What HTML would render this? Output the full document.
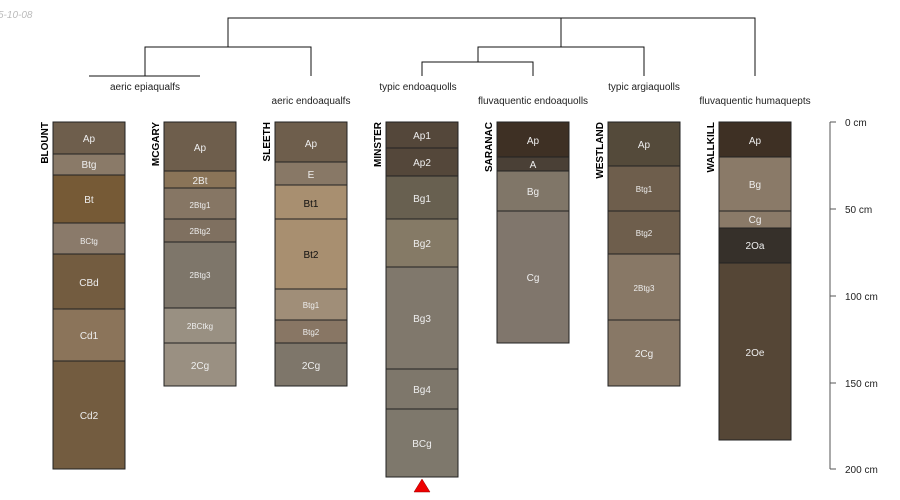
<!DOCTYPE html>
<html><head><meta charset="utf-8"><style>
html,body{margin:0;padding:0;background:#fff;width:900px;height:500px;overflow:hidden}
svg{display:block;font-family:"Liberation Sans",sans-serif}
</style></head><body>
<svg width="900" height="500" viewBox="0 0 900 500" xmlns="http://www.w3.org/2000/svg">
<text x="-2" y="18" font-size="10" fill="#bbb" font-style="italic">5-10-08</text>
<g stroke="#111" stroke-width="1" fill="none">
<path d="M228 47V18H755V76"/>
<path d="M145 76V47H311V76"/>
<path d="M89 76H200"/>
<path d="M561 18V47"/>
<path d="M478 62V47H644V76"/>
<path d="M422 76V62H533V76"/>
</g>
<g font-size="10" fill="#222" text-anchor="middle">
<text x="145" y="90">aeric epiaqualfs</text>
<text x="311" y="104">aeric endoaqualfs</text>
<text x="418" y="90">typic endoaquolls</text>
<text x="533" y="104">fluvaquentic endoaquolls</text>
<text x="644" y="90">typic argiaquolls</text>
<text x="755" y="104">fluvaquentic humaquepts</text>
</g>
<g font-size="10" font-weight="bold" fill="#000">
<text transform="translate(48,122) rotate(-90)" text-anchor="end">BLOUNT</text>
<text transform="translate(159,122) rotate(-90)" text-anchor="end">MCGARY</text>
<text transform="translate(270,122) rotate(-90)" text-anchor="end">SLEETH</text>
<text transform="translate(381,122) rotate(-90)" text-anchor="end">MINSTER</text>
<text transform="translate(492,122) rotate(-90)" text-anchor="end">SARANAC</text>
<text transform="translate(603,122) rotate(-90)" text-anchor="end">WESTLAND</text>
<text transform="translate(714,122) rotate(-90)" text-anchor="end">WALLKILL</text>
</g>
<g stroke="#222" stroke-width="1" font-size="10" text-anchor="middle">
<!-- Blount -->
<rect x="53" y="122" width="72" height="32" fill="#6e5e4c"/>
<rect x="53" y="154" width="72" height="21" fill="#8a7a68"/>
<rect x="53" y="175" width="72" height="48" fill="#765a36"/>
<rect x="53" y="223" width="72" height="31" fill="#8a7a6a"/>
<rect x="53" y="254" width="72" height="55" fill="#735c40"/>
<rect x="53" y="309" width="72" height="52" fill="#8b745a"/>
<rect x="53" y="361" width="72" height="108" fill="#735c40"/>
<!-- McGary -->
<rect x="164" y="122" width="72" height="49" fill="#6e5e4c"/>
<rect x="164" y="171" width="72" height="17" fill="#8a7458"/>
<rect x="164" y="188" width="72" height="31" fill="#867664"/>
<rect x="164" y="219" width="72" height="23" fill="#7f7060"/>
<rect x="164" y="242" width="72" height="66" fill="#7e766a"/>
<rect x="164" y="308" width="72" height="35" fill="#999082"/>
<rect x="164" y="343" width="72" height="43" fill="#9a9082"/>
<!-- Sleeth -->
<rect x="275" y="122" width="72" height="40" fill="#6e5e4c"/>
<rect x="275" y="162" width="72" height="23" fill="#887866"/>
<rect x="275" y="185" width="72" height="34" fill="#a88f70"/>
<rect x="275" y="219" width="72" height="70" fill="#a88f70"/>
<rect x="275" y="289" width="72" height="31" fill="#a08e78"/>
<rect x="275" y="320" width="72" height="23" fill="#887664"/>
<rect x="275" y="343" width="72" height="43" fill="#7e766a"/>
<!-- Minster -->
<rect x="386" y="122" width="72" height="26" fill="#54473a"/>
<rect x="386" y="148" width="72" height="28" fill="#54473a"/>
<rect x="386" y="176" width="72" height="43" fill="#686050"/>
<rect x="386" y="219" width="72" height="48" fill="#857a66"/>
<rect x="386" y="267" width="72" height="102" fill="#80786c"/>
<rect x="386" y="369" width="72" height="40" fill="#7e776b"/>
<rect x="386" y="409" width="72" height="68" fill="#7e786c"/>
<!-- Saranac -->
<rect x="497" y="122" width="72" height="35" fill="#3e3024"/>
<rect x="497" y="157" width="72" height="14" fill="#4a4036"/>
<rect x="497" y="171" width="72" height="40" fill="#807668"/>
<rect x="497" y="211" width="72" height="132" fill="#80766c"/>
<!-- Westland -->
<rect x="608" y="122" width="72" height="44" fill="#544a3a"/>
<rect x="608" y="166" width="72" height="45" fill="#6e5e4c"/>
<rect x="608" y="211" width="72" height="43" fill="#6e5e4c"/>
<rect x="608" y="254" width="72" height="66" fill="#887866"/>
<rect x="608" y="320" width="72" height="66" fill="#887866"/>
<!-- Wallkill -->
<rect x="719" y="122" width="72" height="35" fill="#3e3024"/>
<rect x="719" y="157" width="72" height="54" fill="#8a7a68"/>
<rect x="719" y="211" width="72" height="17" fill="#8a7a68"/>
<rect x="719" y="228" width="72" height="35" fill="#36302a"/>
<rect x="719" y="263" width="72" height="177" fill="#554636"/>
</g>
<g font-size="10" fill="#eee" text-anchor="middle">
<text x="89" y="142">Ap</text><text x="89" y="168">Btg</text><text x="89" y="203">Bt</text>
<text x="89" y="244" font-size="8">BCtg</text><text x="89" y="286">CBd</text><text x="89" y="339">Cd1</text><text x="89" y="419">Cd2</text>
<text x="200" y="151">Ap</text><text x="200" y="184">2Bt</text><text x="200" y="208" font-size="8">2Btg1</text>
<text x="200" y="234" font-size="8">2Btg2</text><text x="200" y="278" font-size="8">2Btg3</text><text x="200" y="329" font-size="8">2BCtkg</text><text x="200" y="369">2Cg</text>
<text x="311" y="147">Ap</text><text x="311" y="178">E</text>
<text x="311" y="207" fill="#111">Bt1</text><text x="311" y="258" fill="#111">Bt2</text>
<text x="311" y="308" font-size="8">Btg1</text><text x="311" y="335" font-size="8">Btg2</text><text x="311" y="369">2Cg</text>
<text x="422" y="139">Ap1</text><text x="422" y="166">Ap2</text><text x="422" y="202">Bg1</text><text x="422" y="247">Bg2</text>
<text x="422" y="322">Bg3</text><text x="422" y="393">Bg4</text><text x="422" y="447">BCg</text>
<text x="533" y="144">Ap</text><text x="533" y="168">A</text><text x="533" y="195">Bg</text><text x="533" y="281">Cg</text>
<text x="644" y="148">Ap</text><text x="644" y="192" font-size="8">Btg1</text><text x="644" y="236" font-size="8">Btg2</text>
<text x="644" y="291" font-size="8">2Btg3</text><text x="644" y="357">2Cg</text>
<text x="755" y="144">Ap</text><text x="755" y="188">Bg</text><text x="755" y="223">Cg</text><text x="755" y="249">2Oa</text><text x="755" y="356">2Oe</text>
</g>
<polygon points="422,479 414,492 430,492" fill="#e00" stroke="#900" stroke-width="0.5"/>
<g stroke="#555" stroke-width="1">
<path d="M830 122V469"/>
<path d="M830 122H836M830 209H836M830 296H836M830 383H836M830 469H836"/>
</g>
<g font-size="10" fill="#222">
<text x="845" y="126">0 cm</text><text x="845" y="213">50 cm</text><text x="845" y="300">100 cm</text>
<text x="845" y="387">150 cm</text><text x="845" y="473">200 cm</text>
</g>
</svg>
</body></html>
